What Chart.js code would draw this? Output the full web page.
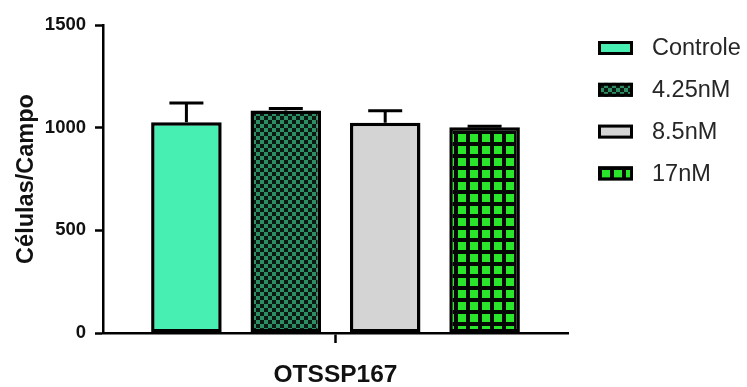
<!DOCTYPE html>
<html>
<head>
<meta charset="utf-8">
<script src="https://cdn.jsdelivr.net/npm/chart.js@4"></script>
<style>
  html, body { margin: 0; padding: 0; background: #ffffff; }
  #wrap { width: 747px; height: 387px; }
</style>
</head>
<body>
<div id="wrap"><canvas id="c" width="747" height="387"></canvas></div>
<script>
// Data
const categories = ['OTSSP167'];
const seriesNames = ['Controle', '4.25nM', '8.5nM', '17nM'];
const means = [1026, 1083, 1024, 1002];
const errors = [94, 10, 58, 5];
const yTicks = [0, 500, 1000, 1500];

const FONT = '"Liberation Sans", Arial, Helvetica, sans-serif';

// Fill patterns
function checkerPattern() {
  const c = document.createElement('canvas');
  c.width = 8; c.height = 8;
  const g = c.getContext('2d');
  g.fillStyle = '#0a1a12';
  g.fillRect(0, 0, 8, 8);
  g.fillStyle = '#2e8e63';
  g.fillRect(0, 0, 4, 4);
  g.fillRect(4, 4, 4, 4);
  return g.createPattern(c, 'repeat');
}
function gridPattern() {
  const c = document.createElement('canvas');
  c.width = 12; c.height = 12;
  const g = c.getContext('2d');
  g.fillStyle = '#050805';
  g.fillRect(0, 0, 12, 12);
  g.fillStyle = '#2ae62a';
  g.fillRect(2, 2, 8, 8);
  return g.createPattern(c, 'repeat');
}

const fills = ['#48efb2', checkerPattern(), '#d4d4d4', gridPattern()];

const datasets = seriesNames.map((name, i) => ({
  label: name,
  data: [means[i]],
  backgroundColor: fills[i],
  borderColor: '#000000',
  borderWidth: 3.5,
  borderSkipped: false,
  barPercentage: 0.71,
  categoryPercentage: 0.855
}));

// Upward error bars (mean + SEM)
const errorBars = {
  id: 'errorBars',
  afterDatasetsDraw(chart) {
    const ctx = chart.ctx;
    const y = chart.scales.y;
    ctx.save();
    ctx.strokeStyle = '#000000';
    ctx.lineWidth = 3;
    ctx.lineCap = 'butt';
    chart.data.datasets.forEach((ds, i) => {
      const bar = chart.getDatasetMeta(i).data[0];
      const top = y.getPixelForValue(means[i] + errors[i]);
      const base = y.getPixelForValue(means[i]);
      ctx.beginPath();
      ctx.moveTo(bar.x, base);
      ctx.lineTo(bar.x, top);
      ctx.moveTo(bar.x - 17, top);
      ctx.lineTo(bar.x + 17, top);
      ctx.stroke();
    });
    ctx.restore();
  }
};

// Legend at the right
const sideLegend = {
  id: 'sideLegend',
  afterDraw(chart) {
    const ctx = chart.ctx;
    ctx.save();
    chart.data.datasets.forEach((ds, i) => {
      const cy = 48 + i * 41.8;
      ctx.fillStyle = ds.backgroundColor;
      ctx.fillRect(598, cy - 7, 35, 14);
      ctx.strokeStyle = '#000000';
      ctx.lineWidth = 3;
      ctx.strokeRect(599.5, cy - 5.5, 32, 11);
      ctx.fillStyle = '#262626';
      ctx.font = '23.5px ' + FONT;
      ctx.textBaseline = 'middle';
      ctx.textAlign = 'left';
      ctx.fillText(ds.label, 652, cy + 1);
    });
    ctx.restore();
  }
};

new Chart(document.getElementById('c'), {
  type: 'bar',
  data: { labels: categories, datasets: datasets },
  options: {
    responsive: false,
    animation: false,
    layout: { padding: { top: 25, right: 179, bottom: 0, left: 0 } },
    plugins: { legend: { display: false }, tooltip: { enabled: false } },
    scales: {
      x: {
        grid: {
          offset: false,
          drawOnChartArea: false,
          drawTicks: true,
          tickLength: 10,
          tickWidth: 2.5,
          tickColor: '#000000'
        },
        border: { display: true, color: '#000000', width: 2.5 },
        ticks: {
          color: '#111111',
          font: { family: FONT, size: 24.5, weight: 'bold' },
          padding: 18
        },
        afterFit(scale) { scale.height = 54; }
      },
      y: {
        min: 0,
        max: 1500,
        afterBuildTicks(scale) { scale.ticks = yTicks.map(v => ({ value: v })); },
        grid: {
          drawOnChartArea: false,
          drawTicks: true,
          tickLength: 8,
          tickWidth: 2.5,
          tickColor: '#000000'
        },
        border: { display: true, color: '#000000', width: 2.5 },
        ticks: {
          color: '#111111',
          font: { family: FONT, size: 18.5, weight: 'bold' },
          padding: 9,
          callback: (v) => String(v)
        },
        title: {
          display: true,
          text: 'Células/Campo',
          color: '#111111',
          font: { family: FONT, size: 23.5, weight: 'bold' },
          padding: { top: 12, bottom: 0 }
        },
        afterFit(scale) { scale.width = 103; }
      }
    }
  },
  plugins: [errorBars, sideLegend]
});
</script>
</body>
</html>
